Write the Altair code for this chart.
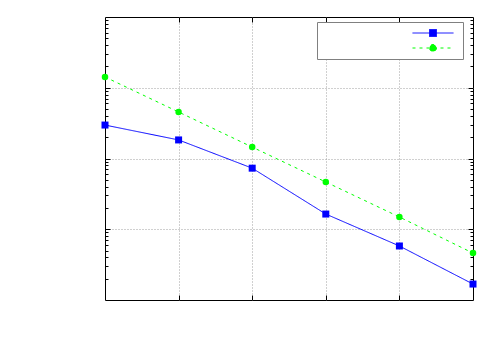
import altair as alt
import pandas as pd

# ---- data ----
x_vals = [1, 2, 3, 4, 5, 6]
blue_vals = [2.97e-2, 1.83e-2, 7.3e-3, 1.64e-3, 5.8e-4, 1.68e-4]
green_vals = [1.42e-1, 4.54e-2, 1.45e-2, 4.65e-3, 1.49e-3, 4.6e-4]
series_names = ["blue", "green"]
series_colors = ["#0000ff", "#00ff00"]

x_major = [2, 3, 4, 5]
y_ticks = [m * d for d in [1e-4, 1e-3, 1e-2, 1e-1] for m in [1, 2, 3, 4, 5, 6, 7, 8, 9]][1:]

W, H = 368, 283

df = pd.DataFrame({
    "x": x_vals * 2,
    "y": blue_vals + green_vals,
    "series": [series_names[0]] * 6 + [series_names[1]] * 6,
})

xs = alt.Scale(domain=[1, 6], nice=False, zero=False)
ys = alt.Scale(type="log", domain=[1e-4, 1], nice=False)
col_scale = alt.Scale(domain=series_names, range=series_colors)
dash_scale = alt.Scale(domain=series_names, range=[[1, 0], [3, 4]])
shape_scale = alt.Scale(
    domain=series_names,
    range=[
        "M-5.86,0H5.86M-1,-1H1V1H-1Z",
        "M-5.86,0H5.86M1,0A1,1,0,1,1,-1,0A1,1,0,1,1,1,0Z",
    ],
)

is_decade = "abs(log(datum.value)/LN10 - round(log(datum.value)/LN10)) < 0.000001"
tick_size = {"condition": {"test": is_decade, "value": 5}, "value": 3}
grid_color = {"condition": {"test": is_decade, "value": "#a0a0a0"}, "value": "transparent"}

common_axis = dict(labels=False, title=None, domain=False, tickWidth=1, tickColor="black")
grid_style = dict(grid=True, gridDash=[1, 2], gridWidth=1)

ax_x_bottom = alt.Axis(orient="top", offset=-H, values=x_major, tickSize=5,
                       gridColor="#a0a0a0", **common_axis, **grid_style)
ax_x_top = alt.Axis(orient="bottom", offset=-H, values=x_major, tickSize=5, grid=False, **common_axis)
ax_y_left = alt.Axis(orient="right", offset=-W, values=y_ticks, tickSize=tick_size,
                     gridColor=grid_color, **common_axis, **grid_style)
ax_y_right = alt.Axis(orient="left", offset=-W, values=y_ticks, tickSize=tick_size, grid=False, **common_axis)

base = alt.Chart(df)

lines = base.mark_line(strokeWidth=1).encode(
    x=alt.X("x:Q", scale=xs, axis=ax_x_bottom),
    y=alt.Y("y:Q", scale=ys, axis=ax_y_left),
    stroke=alt.Stroke("series:N", scale=col_scale),
    strokeDash=alt.StrokeDash("series:N", scale=dash_scale),
)

squares = base.transform_filter(alt.datum.series == series_names[0]).mark_square(
    size=49, color=series_colors[0], opacity=1
).encode(
    x=alt.X("x:Q", scale=xs, axis=ax_x_top),
    y=alt.Y("y:Q", scale=ys, axis=ax_y_right),
)

circles = base.transform_filter(alt.datum.series == series_names[1]).mark_circle(
    size=42, color=series_colors[1], opacity=1
).encode(
    x=alt.X("x:Q", scale=xs, axis=None),
    y=alt.Y("y:Q", scale=ys, axis=None),
)

legend = alt.Legend(
    orient="none", legendX=212, legendY=5, title=None, labelExpr="''",
    strokeColor="#808080", fillColor="white", padding=7,
    symbolSize=49, symbolOpacity=1, symbolStrokeWidth=1,
    symbolOffset=105, labelOffset=19, labelFontSize=1, rowPadding=7, clipHeight=8,
)

legend_layer = base.mark_point(filled=True, opacity=0).encode(
    x=alt.X("x:Q", scale=xs, axis=None),
    y=alt.Y("y:Q", scale=ys, axis=None),
    fill=alt.Fill("series:N", scale=col_scale, legend=legend),
    stroke=alt.Stroke("series:N", scale=col_scale, legend=legend),
    strokeDash=alt.StrokeDash("series:N", scale=dash_scale, legend=legend),
    shape=alt.Shape("series:N", scale=shape_scale, legend=legend),
)

chart = alt.layer(lines, squares, circles, legend_layer).resolve_axis(
    x="independent", y="independent"
).properties(
    width=W, height=H,
    autosize=alt.AutoSizeParams(type="none"),
    padding={"left": 97, "top": 9, "right": 19, "bottom": 42},
    background="white",
).configure_view(stroke="black", strokeWidth=1)

chart.save("out.html", embed_options={"renderer": "svg", "actions": False})
